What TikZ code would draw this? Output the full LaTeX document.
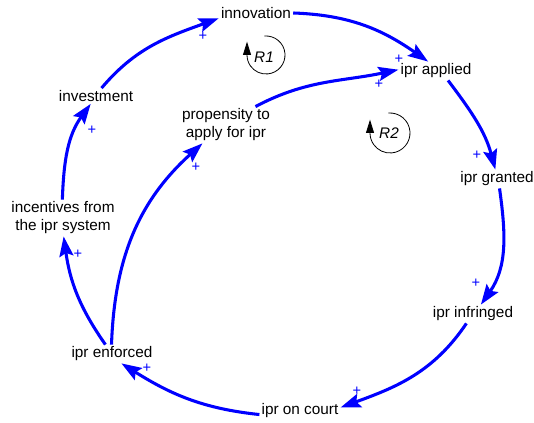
\documentclass[tikz,border=0pt]{standalone}
\usepackage{fontspec}
\setmainfont{Liberation Sans}
\usetikzlibrary{arrows.meta}
\definecolor{linkblue}{RGB}{0,0,255}
\begin{document}
\begin{tikzpicture}[x=0.75pt,y=0.75pt,
  var/.style={inner sep=1.5pt, font=\fontsize{11.5}{13.5}\selectfont, align=center, text=black},
  link/.style={draw=linkblue, line width=2.3pt, -{Stealth[length=15pt,width=10.5pt,inset=2.5pt]}},
  pol/.style={text=linkblue, font=\fontsize{11}{11}\selectfont, inner sep=0pt},
  loopc/.style={draw=black, line width=0.6pt, -{Triangle[length=10pt,width=6pt]}},
  looplbl/.style={font=\fontsize{11.5}{13.5}\selectfont\itshape, inner sep=0pt}]
\useasboundingbox (0,0) rectangle (534,423);

% variables
\node[var] (innovation) at (256,410) {innovation};
\node[var] (applied)    at (436,352) {ipr applied};
\node[var] (granted)    at (497,244) {ipr granted};
\node[var] (infringed)  at (473,109) {ipr infringed};
\node[var] (court)      at (300,12)  {ipr on court};
\node[var] (enforced)   at (112,69)  {ipr enforced};
\node[var] (incentives) at (63,205)  {incentives from\\the ipr system};
\node[var] (investment) at (96,327)  {investment};
\node[var] (propensity) at (226,298) {propensity to\\apply for ipr};

% links
\draw[link] (investment.55)  to[out=50,in=200]  (innovation.188);
\draw[link] (innovation.east) to[out=-2,in=145] (applied.130);
\draw[link] (propensity.32)  to[out=28,in=192]  (applied.178);
\draw[link] (applied.-38)    to[out=-53,in=105] (granted.100);
\draw[link] (granted.-75)    to[out=-82,in=55]  (infringed.50);
\draw[link] (infringed.-125) to[out=-124,in=20] (court.5);
\draw[link] (court.185)      to[out=174,in=-32] (enforced.-45);
\draw[link] (enforced.125)   to[out=125,in=-82] (incentives.-88);
\draw[link] (incentives.92)  to[out=88,in=234]  (investment.236);
\draw[link] (enforced.93)    to[out=88,in=222]  (propensity.218);

% polarities
\node[pol] (p1)  at (203,387) {+};
\node[pol] (p2)  at (399,364) {+};
\node[pol] (p3)  at (379,339) {+};
\node[pol] (p4)  at (477,268) {+};
\node[pol] (p5)  at (476,140) {+};
\node[pol] (p6)  at (357,32)  {+};
\node[pol] (p7)  at (147,55)  {+};
\node[pol] (p8)  at (78,169)  {+};
\node[pol] (p9)  at (92,293)  {+};
\node[pol] (p10) at (196,256) {+};

% loop markers
\coordinate (r1c) at (266,368);
\node[looplbl] (r1) at (264,366) {R1};
\draw[loopc] ([shift={(95:14.25pt)}]r1c) arc[start angle=95, end angle=-180, radius=14.25pt] -- ++(0,10pt);

\coordinate (r2c) at (390,290);
\node[looplbl] (r2) at (389,290) {R2};
\draw[loopc] ([shift={(95:15pt)}]r2c) arc[start angle=95, end angle=-180, radius=15pt] -- ++(0,10pt);
\end{tikzpicture}
\end{document}
